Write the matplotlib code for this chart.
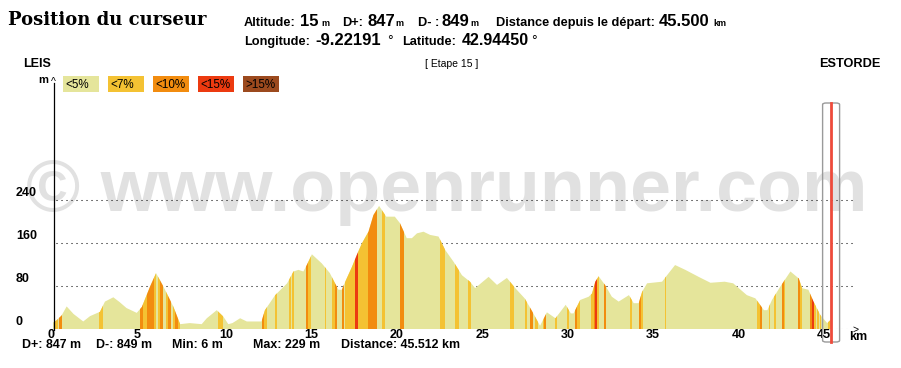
import numpy as np
import matplotlib
matplotlib.use("Agg")
import matplotlib.pyplot as plt
from matplotlib.patches import Polygon, Rectangle, FancyBboxPatch
from matplotlib.lines import Line2D
from matplotlib.transforms import blended_transform_factory

# ---------------- data ----------------
dist_km = [0.0, 0.2, 0.5, 0.8, 1.2, 1.77, 2.17, 2.75, 3.04, 3.53, 3.9, 4.3, 4.9, 5.2, 5.68,
           6.03, 6.46, 7.05, 7.44, 8.0, 8.7, 9.0, 9.58, 9.97, 10.26, 10.5, 10.95, 11.34, 12.2,
           12.4, 13.0, 13.7, 14.07, 14.36, 14.65, 14.85, 15.15, 15.73, 16.2, 16.6, 16.7, 16.9,
           17.1, 17.5, 17.78, 18.07, 18.46, 18.75, 19.08, 19.5, 20.0, 20.3, 20.7, 21.0, 21.3,
           21.68, 22.07, 22.56, 22.95, 23.44, 23.93, 24.4, 24.7, 25.49, 25.98, 26.56, 27.05,
           27.6, 28.0, 28.5, 28.9, 29.4, 30.0, 30.3, 30.46, 30.85, 31.34, 31.54, 31.73, 31.93,
           32.3, 32.7, 33.1, 33.7, 33.98, 34.27, 34.47, 34.76, 35.64, 35.93, 36.4, 37.0, 37.3,
           37.78, 38.47, 39.3, 39.8, 40.6, 41.1, 41.6, 41.8, 42.07, 42.56, 43.15, 43.64, 43.83,
           44.2, 44.5, 44.9, 45.3, 45.5]
elev_m = [12, 16, 25, 42, 28, 14, 24, 32, 51, 59, 50, 39, 30, 41, 79,
          104, 79, 41, 9, 11, 9, 20, 35, 23, 9, 11, 20, 14, 14,
          35, 63, 85, 107, 110, 107, 119, 139, 122, 104, 79, 73, 73,
          88, 116, 138, 159, 181, 212, 229, 209, 209, 197, 169, 169, 178,
          181, 175, 172, 147, 125, 100, 88, 76, 97, 82, 95, 76,
          57, 35, 6, 31, 20, 45, 29, 29, 54, 60, 66, 88, 98,
          82, 60, 51, 63, 48, 48, 69, 85, 88, 100, 119, 110, 105,
          97, 86, 88, 85, 63, 57, 35, 35, 54, 79, 107, 94, 76,
          73, 51, 26, 11, 17]

# slope stripes: start km, end km, class (1: <7%, 2: <10%, 3: <15%)
stripe_start = [0.06, 0.2, 0.38, 2.71, 5.09, 5.29, 5.52, 5.91, 6.17, 6.26, 6.62, 6.75, 7.04, 7.16, 7.32,
                9.68, 12.22, 12.37, 13.0, 13.8, 13.98, 14.8, 14.92, 15.9, 16.35, 16.48, 16.9,
                17.1, 17.68, 17.87, 18.46, 19.24, 20.28, 22.66, 23.54, 24.3, 26.76, 27.6, 27.93,
                28.2, 28.68, 28.75, 29.4, 30.07, 30.56, 30.66, 31.5, 31.63, 31.73, 31.83, 32.22,
                33.78, 34.3, 34.42, 35.79, 41.2, 41.35, 41.88, 42.17, 42.66, 42.76, 43.6, 43.7,
                44.32, 44.44, 44.54, 44.7, 44.86, 45.37]
stripe_end = [0.17, 0.3, 0.55, 2.95, 5.29, 5.52, 5.91, 6.03, 6.26, 6.46, 6.75, 6.89, 7.16, 7.32, 7.44,
              9.97, 12.37, 12.55, 13.1, 13.9, 14.08, 14.92, 15.08, 16.0, 16.48, 16.6, 17.02,
              17.68, 17.87, 18.46, 18.95, 19.44, 20.55, 22.95, 23.73, 24.45, 26.95, 27.72, 28.1,
              28.35, 28.75, 28.82, 29.5, 30.17, 30.66, 30.85, 31.63, 31.73, 31.83, 31.93, 32.36,
              33.88, 34.42, 34.54, 35.89, 41.35, 41.46, 41.98, 42.33, 42.76, 42.86, 43.7, 43.8,
              44.44, 44.54, 44.65, 44.8, 44.93, 45.5]
stripe_class = [1, 1, 2, 1, 2, 1, 2, 1, 1, 2, 1, 2, 1, 2, 1,
                1, 2, 1, 1, 1, 1, 2, 1, 1, 1, 2, 2,
                1, 3, 1, 2, 1, 2, 1, 1, 1, 1, 1, 2,
                1, 1, 2, 1, 1, 2, 1, 1, 2, 3, 1, 2,
                1, 2, 1, 1, 1, 2, 1, 1, 2, 1, 2, 1,
                2, 3, 1, 1, 1, 1]

legend_labels = ["<5%", "<7%", "<10%", "<15%", ">15%"]
slope_colors = ["#E5E59B", "#F4C233", "#F28C0F", "#EC3A10", "#9C4A1E"]
y_ticks = [0, 80, 160, 240]
x_ticks = [0, 5, 10, 15, 20, 25, 30, 35, 40, 45]
cursor_km = 45.5

# ---------------- figure ----------------
W, H = 901, 368
fig = plt.figure(figsize=(W / 100, H / 100), dpi=100)
fig.patch.set_facecolor("white")
SANS = ["Liberation Sans", "DejaVu Sans"]

def fx(x):
    return x / W

def fy(y):
    return 1 - y / H

PX_KM = 17.09
PX_M = 0.5375
x0, ybot, ytop, xr = 53, 329, 78, 853
ax = fig.add_axes([fx(x0), fy(ybot), (xr - x0) / W, (ybot - ytop) / H])
ax.set_xlim(0, (xr - x0) / PX_KM)
ax.set_ylim(0, (ybot - ytop) / PX_M)
ax.patch.set_visible(False)
for s in ax.spines.values():
    s.set_visible(False)
ax.set_xticks([])
ax.set_yticks([])

# watermark
fig.text(fx(447), fy(192), "© www.openrunner.com", ha="center", va="center",
         fontsize=53, color="#E1E1E1", family=SANS, weight="bold", zorder=-5)

# gridlines
for yv in y_ticks:
    ax.plot([0.15, ax.get_xlim()[1]], [yv, yv], color="black", lw=0.75,
            linestyle=(0, (1, 3.8)), zorder=1)

# profile
verts = list(zip(dist_km, elev_m)) + [(dist_km[-1], 0), (dist_km[0], 0)]
prof = Polygon(verts, closed=True, facecolor=slope_colors[0], edgecolor="none", zorder=2)
ax.add_patch(prof)
for a, b, c in zip(stripe_start, stripe_end, stripe_class):
    sp = ax.axvspan(a, b, color=slope_colors[c], lw=0, zorder=3)
    sp.set_clip_path(prof)

# y axis line and arrows
fig.add_artist(Line2D([fx(53.5), fx(53.5)], [fy(83), fy(330)], color="black", lw=0.9))
fig.text(fx(53.5), fy(85), "^", ha="center", va="baseline", fontsize=7.5, family=SANS)
fig.text(fx(43), fy(83), "m", ha="center", va="baseline", fontsize=8, family=SANS, weight="bold")
fig.text(fx(856), fy(332.5), ">", ha="center", va="baseline", fontsize=7.5, family=SANS)
fig.text(fx(858), fy(340), "km", ha="center", va="baseline", fontsize=9, family=SANS, weight="bold")

# tick labels
ty = blended_transform_factory(fig.transFigure, ax.transData)
for yv in y_ticks:
    ax.text(fx(16), yv + 1, str(yv), transform=ty, ha="left", va="bottom",
            fontsize=9, family=SANS, weight="bold")
tx = blended_transform_factory(ax.transData, fig.transFigure)
for xv in x_ticks:
    ax.text(xv - 5 / PX_KM, fy(338.5), str(xv), transform=tx, ha="left", va="baseline",
            fontsize=9, family=SANS, weight="bold")

# bottom stats
stats = [(22, "D+: 847 m"), (96, "D-: 849 m"), (172, "Min: 6 m"), (253, "Max: 229 m"),
         (341, "Distance: 45.512 km")]
for x, t in stats:
    fig.text(fx(x), fy(347.5), t, ha="left", va="baseline", fontsize=8.9, family=SANS, weight="bold")

# cursor
cx = x0 + cursor_km * PX_KM
fig.add_artist(FancyBboxPatch((fx(cx - 8), fy(342)), 17 / W, 239 / H,
                              boxstyle="round,pad=0,rounding_size=0.004",
                              facecolor="none", edgecolor="#9a9a9a", lw=1.0,
                              transform=fig.transFigure))
fig.add_artist(Line2D([fx(cx), fx(cx)], [fy(103), fy(342)], color="#EE4B3B", lw=2.0))

# header
fig.text(fx(8), fy(25), "Position du curseur", ha="left", va="baseline", fontsize=13,
         family=["DejaVu Serif"], weight="bold")

def header(parts, yb):
    for x, t, sz, wt in parts:
        fig.text(fx(x), fy(yb), t, ha="left", va="baseline", fontsize=sz, family=SANS, weight=wt)

header([(244, "Altitude:", 9.2, "bold"), (300, "15", 12, "bold"), (321, "m", 6.5, "bold"),
        (342, "D+:", 9.2, "bold"), (367, "847", 12, "bold"), (395, "m", 6.5, "bold"),
        (418, "D- :", 9.2, "bold"), (442, "849", 12, "bold"), (470, "m", 6.5, "bold"),
        (496, "Distance depuis le départ:", 9.2, "bold"), (659, "45.500", 12, "bold"),
        (713, "km", 6.5, "bold")], 26)
header([(244, "Longitude:", 9.2, "bold"), (315, "-9.22191", 12, "bold"), (387, "°", 10, "normal"),
        (402, "Latitude:", 9.2, "bold"), (462, "42.94450", 11.5, "bold"), (531, "°", 10, "normal")], 45)

fig.text(fx(23), fy(67), "LEIS", ha="left", va="baseline", fontsize=9, family=SANS, weight="bold")
fig.text(fx(452), fy(67), "[ Etape 15 ]", ha="center", va="baseline", fontsize=7.5, family=SANS)
fig.text(fx(880), fy(67), "ESTORDE", ha="right", va="baseline", fontsize=9.2, family=SANS, weight="bold")

# legend
for i, (lab, col) in enumerate(zip(legend_labels, slope_colors)):
    xl = 63 + 45 * i
    fig.add_artist(Rectangle((fx(xl), fy(92)), 36 / W, 16 / H, facecolor=col,
                             edgecolor="none", transform=fig.transFigure))
    fig.text(fx(xl + 2), fy(88.5), lab, ha="left", va="baseline", fontsize=8.4,
             family=SANS, color="black")

fig.savefig("out.png", dpi=100)
